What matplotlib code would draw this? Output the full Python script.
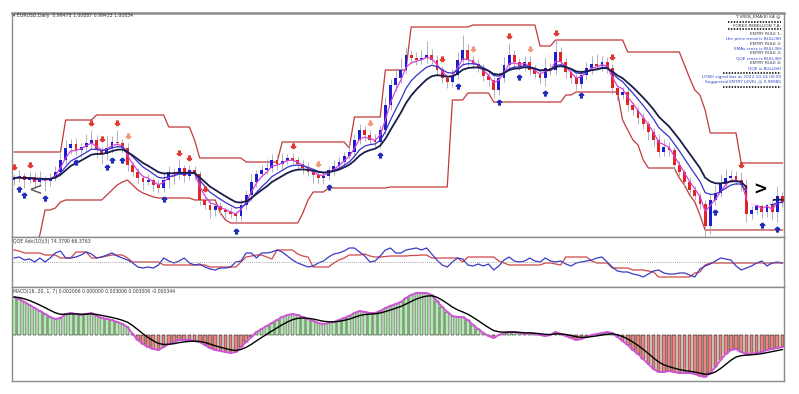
import numpy as np
import pandas as pd
import matplotlib.pyplot as plt
from matplotlib.lines import Line2D

# precio (nivel relativo) por barra diaria
closes = [62, 64, 60, 63, 58, 61, 59, 62, 68, 80,
          92, 96, 90, 93, 97, 100, 90, 86, 92, 98,
          97, 92, 75, 68, 62, 58, 60, 55, 52, 60,
          68, 66, 72, 64, 70, 66, 40, 35, 30, 34,
          30, 28, 26, 24, 35, 45, 58, 66, 70, 72,
          80, 76, 79, 82, 80, 76, 72, 68, 65, 62,
          64, 70, 74, 78, 84, 88, 100, 110, 105, 100,
          98, 110, 135, 155, 162, 170, 185, 182, 180, 182,
          185, 180, 170, 162, 158, 165, 180, 190, 180, 176,
          172, 164, 160, 150, 162, 175, 185, 178, 174, 178,
          170, 166, 162, 172, 170, 188, 178, 168, 162, 156,
          165, 172, 176, 174, 178, 172, 152, 145, 148, 135,
          130, 122, 116, 108, 100, 88, 93, 90, 75, 68,
          58, 50, 44, 36, 14, 40, 47, 56, 62, 64,
          60, 55, 26, 30, 34, 28, 36, 28, 44, 38]
first_open = 60

wick_up = [4, 6, 3, 5, 4, 8, 3, 5, 6, 7,
           8, 5, 6, 4, 9, 10, 5, 4, 12, 6,
           12, 4, 5, 3, 4, 3, 6, 3, 5, 8,
           6, 4, 8, 3, 5, 4, 3, 4, 5, 3,
           4, 3, 5, 3, 6, 5, 8, 4, 5, 9,
           6, 5, 8, 4, 5, 3, 4, 6, 3, 4,
           5, 4, 6, 5, 4, 8, 5, 6, 4, 5,
           6, 5, 8, 6, 10, 12, 8, 5, 6, 8,
           14, 6, 5, 4, 3, 6, 8, 15, 6, 4,
           5, 4, 6, 3, 5, 8, 12, 5, 4, 6,
           6, 5, 4, 10, 5, 12, 5, 4, 3, 4,
           5, 6, 8, 10, 6, 5, 4, 3, 5, 4,
           3, 4, 5, 3, 4, 6, 8, 5, 3, 4,
           3, 5, 4, 3, 4, 6, 8, 10, 9, 6,
           5, 8, 6, 4, 5, 6, 7, 8, 10, 4]

wick_dn = [5, 4, 8, 3, 6, 4, 10, 5, 3, 4,
           4, 6, 5, 7, 4, 5, 8, 10, 6, 5,
           4, 5, 6, 4, 5, 8, 3, 6, 5, 4,
           8, 10, 5, 6, 4, 6, 5, 4, 8, 6,
           5, 6, 4, 8, 5, 4, 6, 5, 3, 4,
           4, 6, 5, 3, 4, 5, 6, 4, 8, 5,
           6, 4, 5, 4, 5, 3, 5, 4, 6, 5,
           5, 6, 4, 5, 6, 5, 4, 6, 5, 4,
           5, 4, 6, 5, 6, 5, 4, 5, 6, 5,
           4, 5, 6, 8, 5, 4, 5, 6, 4, 5,
           5, 4, 6, 8, 5, 4, 5, 6, 5, 6,
           4, 5, 6, 4, 5, 5, 6, 5, 4, 6,
           5, 6, 5, 8, 6, 5, 4, 6, 5, 4,
           5, 6, 4, 5, 10, 8, 5, 4, 5, 4,
           5, 6, 8, 5, 4, 6, 5, 8, 10, 5]

# canal (líneas rojas)
upper = [88, 88, 88, 88, 88, 88, 88, 88, 88, 88,
         120, 120, 120, 120, 120, 120, 125, 125, 125, 125,
         125, 125, 125, 125, 125, 125, 125, 125, 125, 125,
         113, 113, 113, 113, 113, 100, 82, 82, 82, 82,
         82, 82, 82, 82, 82, 78, 78, 78, 78, 78,
         78, 78, 98, 98, 98, 98, 98, 98, 98, 98,
         98, 98, 98, 98, 98, 92, 123, 123, 123, 123,
         123, 123, 170, 170, 170, 170, 170, 213, 213, 213,
         213, 213, 213, 213, 213, 213, 213, 213, 213, 215,
         215, 215, 215, 215, 215, 215, 215, 215, 215, 215,
         215, 215, 194, 194, 194, 200, 200, 200, 200, 200,
         200, 200, 200, 200, 200, 200, 200, 200, 200, 188,
         188, 188, 188, 188, 188, 188, 188, 188, 188, 188,
         175, 162, 150, 145, 130, 107, 107, 107, 107, 107,
         107, 77, 77, 77, 77, 77, 77, 77, 77, 77]

lower = [-10, -10, -10, -10, -10, 5, 30, 30, 32, 38,
         40, 40, 40, 40, 40, 40, 40, 40, 45, 50,
         55, 58, 60, 55, 50, 47, 45, 43, 42, 42,
         42, 42, 42, 42, 42, 40, 40, 40, 40, 40,
         27, 20, 17, 17, 17, 17, 17, 17, 17, 17,
         17, 17, 17, 17, 17, 17, 27, 40, 48, 48,
         48, 52, 52, 52, 52, 52, 52, 52, 52, 52,
         52, 52, 52, 53, 53, 53, 53, 53, 53, 53,
         53, 53, 53, 53, 53, 140, 140, 140, 147, 147,
         147, 147, 147, 138, 138, 138, 138, 138, 138, 138,
         138, 138, 138, 138, 138, 138, 138, 145, 145, 148,
         148, 148, 148, 148, 148, 148, 148, 148, 120, 110,
         100, 95, 80, 72, 72, 72, 72, 72, 72, 62,
         55, 45, 38, 25, 10, 10, 10, 10, 10, 10,
         10, 10, 10, 10, 10, 10, 10, 10, 10, 10]

# QQE
qqe_fast = [58, 60, 54, 56, 50, 58, 50, 58, 68, 72,
            58, 58, 60, 64, 70, 66, 58, 60, 64, 68,
            62, 58, 54, 48, 40, 38, 40, 38, 44, 58,
            52, 48, 52, 58, 48, 44, 46, 40, 36, 34,
            38, 38, 40, 50, 52, 68, 68, 58, 68, 68,
            70, 74, 70, 62, 54, 48, 44, 40, 42, 48,
            52, 60, 66, 68, 72, 78, 78, 70, 62, 50,
            52, 62, 74, 78, 68, 68, 74, 76, 78, 74,
            78, 66, 54, 44, 40, 50, 58, 56, 44, 42,
            46, 42, 46, 34, 42, 54, 60, 52, 50, 52,
            58, 52, 50, 58, 52, 50, 52, 46, 42, 48,
            50, 52, 54, 58, 60, 50, 40, 32, 30, 30,
            26, 24, 20, 26, 32, 34, 28, 26, 26, 28,
            28, 24, 20, 36, 42, 46, 52, 58, 56, 54,
            42, 34, 38, 42, 48, 52, 42, 48, 50, 48]

qqe_slow = [74, 72, 68, 68, 68, 68, 64, 64, 64, 58,
            58, 58, 70, 70, 70, 58, 58, 60, 62, 64,
            64, 64, 58, 50, 50, 50, 50, 50, 50, 44,
            44, 44, 44, 44, 44, 44, 44, 44, 40, 40,
            40, 40, 40, 40, 50, 60, 62, 64, 64, 60,
            56, 74, 74, 74, 74, 66, 62, 60, 40, 40,
            40, 40, 48, 54, 58, 64, 64, 64, 66, 62,
            60, 60, 61, 62, 62, 62, 62, 63, 63, 64,
            64, 58, 58, 58, 58, 58, 58, 50, 60, 60,
            60, 60, 60, 60, 52, 48, 44, 44, 44, 44,
            44, 44, 44, 48, 48, 46, 44, 60, 60, 60,
            60, 60, 52, 48, 48, 48, 38, 38, 38, 38,
            34, 34, 34, 32, 30, 20, 20, 20, 20, 20,
            20, 20, 28, 30, 44, 48, 48, 48, 48, 48,
            48, 48, 48, 48, 48, 48, 48, 48, 48, 48]

# MACD histograma
macd_hist = [38, 36, 33, 30, 27, 24, 21, 18, 16, 17,
             21, 22, 21, 20, 21, 22, 19, 17, 16, 15,
             13, 11, 8, 1, -5, -9, -12, -14, -15, -12,
             -9, -7, -5, -5, -5, -6, -7, -10, -13, -15,
             -16, -17, -18, -17, -12, -7, -2, 3, 6, 9,
             12, 15, 18, 20, 21, 20, 18, 16, 14, 12,
             11, 12, 13, 15, 17, 19, 22, 24, 23, 22,
             22, 24, 27, 29, 31, 33, 37, 40, 42, 42,
             42, 40, 34, 28, 23, 19, 18, 18, 15, 10,
             6, 2, -1, -3, 0, 2, 3, 3, 2, 1,
             2, 1, 0, -1, 0, 3, 1, -1, -3, -5,
             -4, -2, 0, 1, 2, 3, 2, -2, -6, -10,
             -15, -19, -24, -29, -34, -37, -37, -36, -37, -38,
             -38, -38, -39, -41, -42, -38, -32, -25, -19, -15,
             -14, -17, -19, -19, -18, -17, -15, -14, -13, -12]

# señales
sell_bars = [0, 3, 15, 17, 20, 32, 34, 37, 54, 83, 96, 105, 116, 141]
alert_bars = [22, 59, 69, 89, 100]
buy_bars = [1, 2, 6, 12, 18, 19, 21, 29, 43, 61, 71, 86, 94, 98, 103, 110, 136, 145, 148]

main_title = "\u25be EURUSD,Daily  0.99478 1.00887 0.99433 1.00834"
qqe_title = "QQE Adv(10)(3) 74.3790 66.3763"
macd_title = "MACD(16, 20, 1, 7) 0.002006 0.000000 0.003006 0.003006 -0.000344"
info_lines = ["T.VREB_EMA(8) EA \u263a", "FOREX REBELLION T.A.",
              "ENTRY RULE 1:", "the price trend is BULLISH",
              "ENTRY RULE 2:", "EMAs cross is BULLISH",
              "ENTRY RULE 3:", "QQE cross is BULLISH",
              "ENTRY RULE 4:", "QQE is BULLISH",
              "LONG signal bar at 2022.10.24 00:00",
              "Suggested ENTRY LEVEL @ 0.98985"]

W, H = 799, 394
fig = plt.figure(figsize=(W / 100, H / 100), dpi=100)


def px_axes(x0, y0, x1, y1):
    return fig.add_axes([x0 / W, 1 - y1 / H, (x1 - x0) / W, (y1 - y0) / H])


ax = px_axes(12, 13, 784, 237)
axq = px_axes(12, 237, 784, 287)
axm = px_axes(12, 287, 784, 381)

c = np.array(closes, float)
o = np.r_[first_open, c[:-1]]
hi = np.maximum(o, c) + np.array(wick_up)
lo = np.minimum(o, c) - np.array(wick_dn)
x = np.arange(len(c))

# velas
col = np.where(c >= o, '#1c1cd2', '#e32424')
ax.vlines(x, lo, hi, color='#a4a4bc', lw=0.6, zorder=2)
ax.bar(x, np.maximum(np.abs(c - o), 1.2), bottom=np.minimum(o, c), width=0.55,
       color=col, lw=0, zorder=3)

# medias moviles
s = pd.Series(c)
ax.plot(x, s.ewm(span=3, adjust=False).mean(), color='#d444d8', lw=0.9, zorder=4)
ax.plot(x, s.ewm(span=7, adjust=False).mean(), color='#3434cc', lw=0.9, zorder=4)
ax.plot(x, s.ewm(span=11, adjust=False).mean(), color='#1a1d4a', lw=1.3, zorder=4)

# canal
ax.plot(x, upper, color='#c23a3a', lw=0.9, zorder=1)
ax.plot(x, lower, color='#c23a3a', lw=0.9, zorder=1)

# flechas
arrow_up = [(0, 1), (-0.9, 0.1), (-0.35, 0.1), (-0.35, -1), (0.35, -1), (0.35, 0.1), (0.9, 0.1), (0, 1)]
arrow_dn = [(px, -py) for px, py in arrow_up]
ax.plot(x[sell_bars], hi[sell_bars] + 7, ls='none', marker=arrow_dn, ms=3.6, color='#e03a30', zorder=5)
ax.plot(x[alert_bars], hi[alert_bars] + 7, ls='none', marker=arrow_dn, ms=3.6, color='#f29a80', zorder=5)
ax.plot(x[buy_bars], lo[buy_bars] - 7, ls='none', marker=arrow_up, ms=3.6, color='#1f2fb8', zorder=5)

ax.set_ylim(3, 227)

# QQE
axq.plot(x, qqe_slow, color='#d0474a', lw=0.9)
axq.plot(x, qqe_fast, color='#3a3ac4', lw=0.9)
axq.axhline(50, color='#8a8a8a', lw=0.6, ls=(0, (1, 1.5)))
axq.set_ylim(0, 100)

# MACD
h = np.array(macd_hist, float)
axm.bar(x, h, width=0.7, color=np.where(h >= 0, '#b2ecae', '#e6867e'),
        edgecolor='black', lw=0.35, zorder=2)
axm.plot(x, h, color='#d254d8', lw=1.4, zorder=3)
axm.plot(x, pd.Series(h).ewm(span=6, adjust=False).mean(), color='black', lw=1.0, zorder=4)
axm.set_ylim(-46, 48)

for a in (ax, axq, axm):
    a.set_xlim(-0.4, 149.3)
    a.set_xticks([])
    a.set_yticks([])
    for sp in a.spines.values():
        sp.set_color('#8c8c8c')
        sp.set_linewidth(1.0)
ax.spines['top'].set_linewidth(1.8)

# textos de los paneles
fig.text(13 / W, 1 - 16 / H, main_title, fontsize=3.3, va='center', color='#333333')
fig.text(13 / W, 1 - 241 / H, qqe_title, fontsize=3.3, va='center', color='#333333')
fig.text(13 / W, 1 - 291 / H, macd_title, fontsize=3.3, va='center', color='#333333')

# cuadro de información
info_y = [16, 26, 34, 39, 44, 48.5, 53, 58, 63, 68, 77, 82]
for txt, yy in zip(info_lines, info_y):
    blue = txt[0].islower() or 'BULLISH' in txt or txt.startswith(('LONG', 'Suggested'))
    fig.text(781 / W, 1 - yy / H, txt, fontsize=3.1, ha='right', va='center',
             color='#3444c4' if blue else '#303040')
for yy, x0 in [(22, 728), (29, 728), (73, 723), (87, 723)]:
    fig.add_artist(Line2D([x0 / W, 781 / W], [1 - yy / H, 1 - yy / H], color='#222222',
                          lw=1.3, ls=(0, (0.8, 0.8))))

# flechas del carrusel
fig.text(35 / W, 1 - 190 / H, "<", fontsize=12, ha='center', va='center', color='#555555')
fig.text(760 / W, 1 - 190 / H, ">", fontsize=12, ha='center', va='center', color='black',
         weight='bold', bbox=dict(boxstyle='round,pad=0.35', fc='white', ec='none'))

fig.savefig('out.png', dpi=100)
